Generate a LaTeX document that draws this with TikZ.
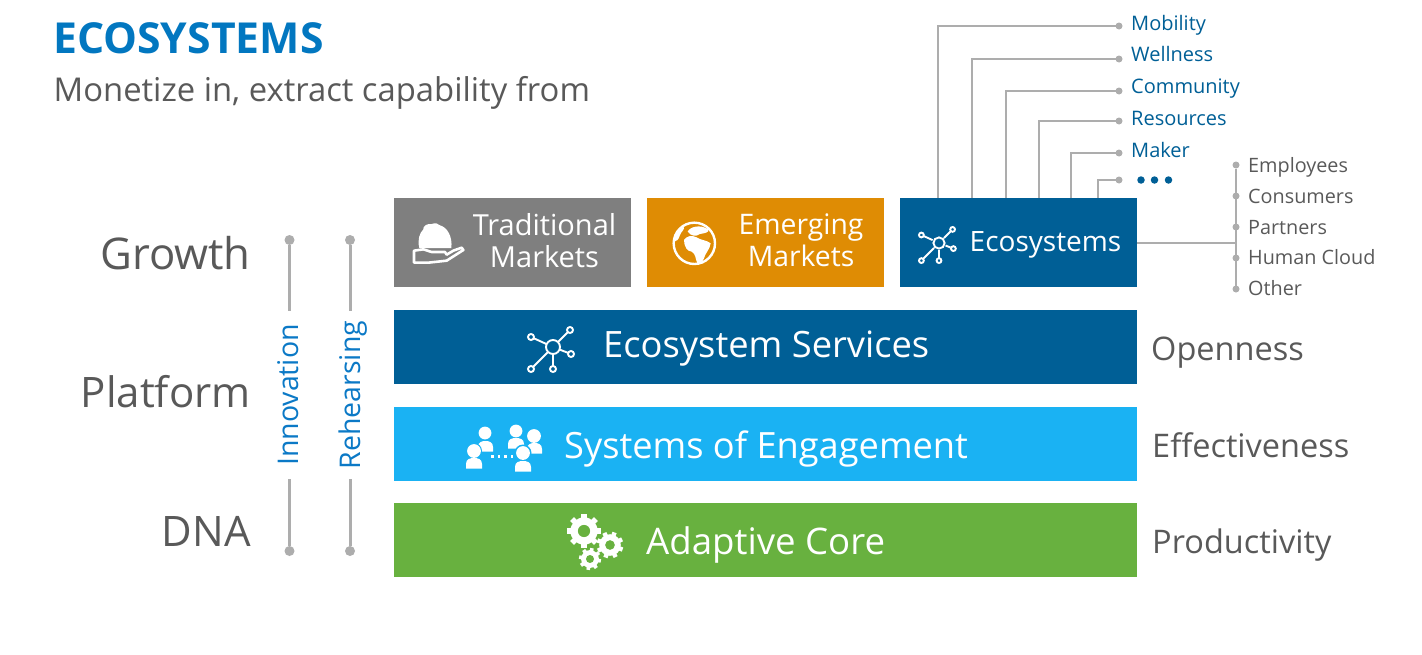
\documentclass[tikz,border=0pt]{standalone}
\usepackage{fontspec}
\setmainfont{Open Sans}
\definecolor{cgray}{HTML}{7F7F7F}
\definecolor{corange}{HTML}{DF8C04}
\definecolor{cnavy}{HTML}{005F96}
\definecolor{csky}{HTML}{1AB2F3}
\definecolor{cgreen}{HTML}{68B13F}
\definecolor{ctitle}{HTML}{0277C0}
\definecolor{cvert}{HTML}{0B79C6}
\definecolor{ctext}{HTML}{595959}
\definecolor{cline}{HTML}{ADADAD}
\newcommand{\fs}[1]{\fontsize{#1}{#1}\selectfont}
\newcommand{\gearat}[5]{% x y r hole-colour phase
  \foreach \a in {0,45,...,315}{
    \draw[white,line width=#3*0.38pt] ([shift={(\a+#5:#3*0.75)}]#1,#2) -- ([shift={(\a+#5:#3*1.16)}]#1,#2);}
  \fill[white] (#1,#2) circle (#3*0.94);
  \fill[#4] (#1,#2) circle (#3*0.42);
}
\newcommand{\personat}[6]{% head x, y, r, body x1,x2, body y top; bottom = top+10
  \fill[white] (#1,#2) circle (#3+0.4);
  \fill[white] (#4,#6+10.5) -- (#4,#6+6) .. controls (#4,#6+1) and (#4+4,#6) .. (#4/2+#5/2,#6)
     .. controls (#5-4,#6) and (#5,#6+1) .. (#5,#6+6) -- (#5,#6+10.5) -- cycle;
}
\tikzset{
  x=1pt,y=-1pt,
  neticon/.pic={
    \draw[white,line width=1.9pt,fill=none] (0,0) circle (7);
    \foreach \px/\py in {17/-17,18/7,0/22,-22/22,-22/-10}{
      \draw[white,line width=1.9pt] (\px,\py) circle (3);
      \draw[white,line width=1.9pt,shorten <=7pt,shorten >=3pt] (0,0) -- (\px,\py);
    }
  },
  barbox/.style={rectangle,inner sep=0pt,outer sep=0pt,draw=none},
  boxlabel/.style={text=white,inner sep=0pt,align=center},
  sidelabel/.style={text=ctext,inner sep=0pt,anchor=base east,font=\fs{42}},
  rightlabel/.style={text=ctext,inner sep=0pt,anchor=base west,font=\fs{32.5}},
  toplabel/.style={text=cnavy,inner sep=0pt,anchor=base west,font=\fs{20}},
  peoplelabel/.style={text=ctext,inner sep=0pt,anchor=base west,font=\fs{19.8}},
  conn/.style={draw=cline,line width=1.4pt},
  vconn/.style={draw=cline,line width=3pt},
  tinydot/.style={circle,fill=cline,inner sep=0pt,outer sep=0pt,minimum size=7pt},
  bigdot/.style={circle,fill=cline,inner sep=0pt,outer sep=0pt,minimum size=10pt},
  navydot/.style={circle,fill=cnavy,inner sep=0pt,outer sep=0pt,minimum size=7.5pt},
  vertlabel/.style={text=cvert,inner sep=0pt,rotate=90,font=\fs{28.5}},
}
\begin{document}
\begin{tikzpicture}
\useasboundingbox (0,0) rectangle (1422,654);
% title
\node[text=ctitle,inner sep=0pt,anchor=base west,font=\fs{42.7}\bfseries] (title) at (53,53) {ECOSYSTEMS};
\node[text=ctext,inner sep=0pt,anchor=base west,font=\fs{32.8}] (subtitle) at (53.5,101) {Monetize in, extract capability from};
% boxes
\node[barbox,fill=cgray,minimum width=237pt,minimum height=89pt] (trad) at (512.5,242.5) {};
\node[barbox,fill=corange,minimum width=237pt,minimum height=89pt] (emer) at (765.5,242.5) {};
\node[barbox,fill=cnavy,minimum width=237pt,minimum height=89pt] (eco) at (1018.5,242.5) {};
\node[barbox,fill=cnavy,minimum width=743pt,minimum height=74pt] (serv) at (765.5,346.5) {};
\node[barbox,fill=csky,minimum width=743pt,minimum height=74pt] (soe) at (765.5,443.5) {};
\node[barbox,fill=cgreen,minimum width=743pt,minimum height=74pt] (core) at (765.5,540) {};
% box labels
\node[boxlabel,font=\fs{29}] (tradt) at (544.5,240.5) {Traditional\\[3pt]Markets};
\node[boxlabel,font=\fs{28.3}] (emert) at (801,240.5) {Emerging\\[3.5pt]Markets};
\node[boxlabel,font=\fs{28},anchor=base west] (ecot) at (969.5,251) {Ecosystems};
\node[boxlabel,font=\fs{36.3},anchor=base west] (servt) at (603,357) {Ecosystem Services};
\node[boxlabel,font=\fs{36.2},anchor=base west] (soet) at (564,458) {Systems of Engagement};
\node[boxlabel,font=\fs{36.6},anchor=base west] (coret) at (646,554) {Adaptive Core};
% side labels
\node[sidelabel,font=\fs{43.7}] (growth) at (251,269) {Growth};
\node[sidelabel] (platform) at (251,407) {Platform};
\node[sidelabel] (dna) at (251,546) {DNA};
\node[rightlabel] (open) at (1151,360) {Openness};
\node[rightlabel] (effect) at (1152,457) {Effectiveness};
\node[rightlabel] (prod) at (1152,553) {Productivity};
% vertical guides
\node[vertlabel] (innov) at (288.5,395) {Innovation};
\node[vertlabel] (rehe) at (353,395) {Rehearsing};
\node[bigdot] (ia) at (289.5,240) {};
\node[bigdot] (ib) at (289.5,551) {};
\node[bigdot] (ra) at (350,240) {};
\node[bigdot] (rb) at (350,551) {};
\coordinate (iat) at (289.5,311);
\coordinate (ibt) at (289.5,479);
\coordinate (rat) at (350,311);
\coordinate (rbt) at (350,479);
\draw[vconn] (ia) -- (iat);
\draw[vconn] (ib) -- (ibt);
\draw[vconn] (ra) -- (rat);
\draw[vconn] (rb) -- (rbt);
% top list
\node[tinydot] (d1) at (1119,26) {};
\node[tinydot] (d2) at (1119,59) {};
\node[tinydot] (d3) at (1119,91) {};
\node[tinydot] (d4) at (1119,121) {};
\node[tinydot] (d5) at (1119,153) {};
\node[tinydot] (d6) at (1119,180) {};
\node[toplabel] (l1) at (1131,30) {Mobility};
\node[toplabel] (l2) at (1131,61) {Wellness};
\node[toplabel] (l3) at (1131,93) {Community};
\node[toplabel] (l4) at (1131,125) {Resources};
\node[toplabel] (l5) at (1131,157) {Maker};
\node[navydot] (m1) at (1141,180) {};
\node[navydot] (m2) at (1154.5,180) {};
\node[navydot] (m3) at (1168.5,180) {};
\draw[conn] (d1) -| (eco.north -| 938,0);
\draw[conn] (d2) -| (eco.north -| 972,0);
\draw[conn] (d3) -| (eco.north -| 1006,0);
\draw[conn] (d4) -| (eco.north -| 1039,0);
\draw[conn] (d5) -| (eco.north -| 1071,0);
\draw[conn] (d6) -| (eco.north -| 1098,0);
% people list
\node[tinydot] (p1) at (1236,165) {};
\node[tinydot] (p2) at (1236,196) {};
\node[tinydot] (p3) at (1236,227) {};
\node[tinydot] (p4) at (1236,258) {};
\node[tinydot] (p5) at (1236,289) {};
\node[peoplelabel] (q1) at (1248,172) {Employees};
\node[peoplelabel] (q2) at (1248,203) {Consumers};
\node[peoplelabel] (q3) at (1248,234) {Partners};
\node[peoplelabel] (q4) at (1248,264) {Human Cloud};
\node[peoplelabel] (q5) at (1248,295) {Other};
\coordinate (bus) at (1236,243);
\draw[conn] (p1) -- (p5);
\draw[conn] (eco.east |- bus) -- (bus);
% icons
\pic at (553,347) {neticon};
\pic[scale=.8] at (939,243) {neticon};
% gears
\gearat{584}{531}{14.5}{cgreen}{0}
\gearat{610}{545}{11.5}{cgreen}{20}
\gearat{590}{559}{9.5}{cgreen}{10}
% people
\personat{485}{433}{6}{478}{493}{441}{}
\personat{516}{431}{6}{508}{524}{438}{}
\personat{534}{436}{6.5}{527}{542}{443}{}
\fill[csky] (474,451) circle (8);
\fill[csky] (523,453) circle (8.5);
\fill[csky] (513,460) rectangle (533,472);
\personat{474}{451}{6.5}{466}{482}{458}{}
\personat{523}{453}{6.5}{515}{531}{461}{}
\foreach \dx in {491,497.5,504,510.5}{\fill[white] (\dx,454.5) rectangle +(2.5,3);}
% globe and hand, in 3x crop coordinates
\begin{scope}[shift={(390,190)},scale=1/3]
  \draw[white,line width=2.4pt] (913,160) circle (62);
  % Africa
  \fill[white] (882,150) .. controls (890,138) and (905,134) .. (920,142) .. controls (935,152) and (950,150) .. (962,160) .. controls (960,178) and (945,190) .. (942,205) .. controls (938,215) and (930,222) .. (922,220) .. controls (915,205) and (918,192) .. (905,185) .. controls (892,184) and (882,170) .. (882,150) -- cycle;
  % Europe
  \fill[white] (893,125) .. controls (900,110) and (930,102) .. (955,118) .. controls (960,128) and (940,130) .. (930,132) .. controls (918,140) and (905,140) .. (893,125) -- cycle;
  % Americas edge
  \fill[white] (851,155) .. controls (853,135) and (865,115) .. (880,108) .. controls (888,118) and (872,125) .. (870,135) .. controls (866,150) and (858,155) .. (851,155) -- cycle;
  % fruit
  \fill[white] (88,174) .. controls (82,150) and (88,130) .. (100,118) .. controls (98,108) and (112,100) .. (125,102) .. controls (135,98) and (145,100) .. (150,106)
     .. controls (172,112) and (188,140) .. (184,174) -- cycle;
  % hand
  \draw[white,line width=2.6pt,line join=round] (72,182) -- (100,178) -- (125,186) -- (165,186) -- (170,194) -- (190,182) -- (215,173) -- (220,180)
     -- (170,212) -- (115,218) -- (72,218) -- cycle;
\end{scope}
\end{tikzpicture}
\end{document}
